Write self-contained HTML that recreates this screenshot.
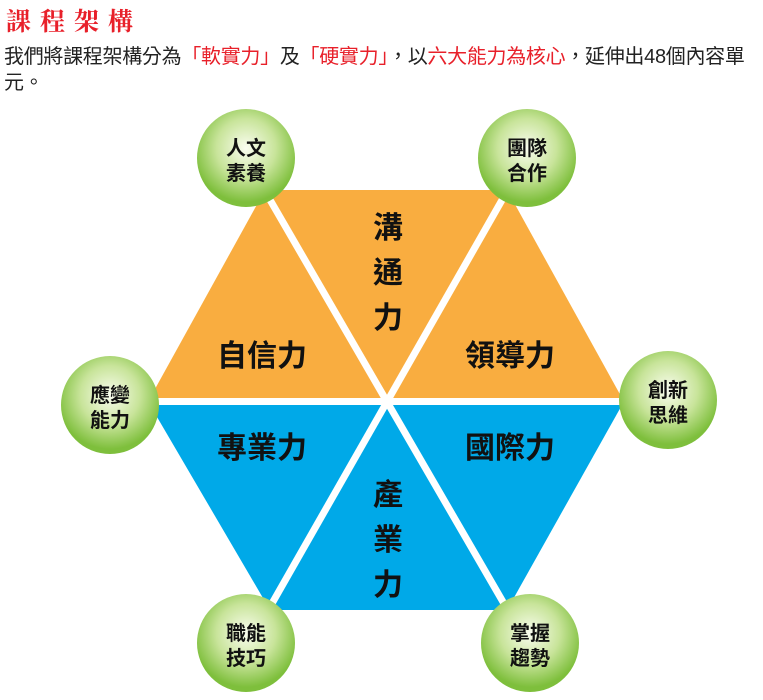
<!DOCTYPE html>
<html><head><meta charset="utf-8"><style>
body{margin:0;width:763px;height:700px;background:#fff;overflow:hidden;font-family:"Liberation Sans","Noto Sans CJK TC",sans-serif;}
.t{position:absolute;left:6px;top:2px;font-family:"Liberation Serif","Noto Serif CJK SC",serif;font-size:25px;font-weight:bold;color:#e8202a;letter-spacing:9px;}
.p{position:absolute;left:4px;top:44px;width:756px;font-size:20px;line-height:26px;color:#222;letter-spacing:-0.3px;}
.r{color:#e8202a}
</style></head><body>
<div class="t">課程架構</div>
<div class="p">我們將課程架構分為<span class="r">「軟實力」</span>及<span class="r">「硬實力」</span>，以<span class="r">六大能力為核心</span>，延伸出48個內容單元。</div>
<svg width="763" height="700" style="position:absolute;left:0;top:0">
<defs><radialGradient id="g" cx="50%" cy="40%" r="55%"><stop offset="0" stop-color="#fafdf0"/><stop offset="0.55" stop-color="#c8e49a"/><stop offset="1" stop-color="#7ebf3c"/></radialGradient></defs>
<polygon points="265,190 507,190 622,398 150,398" fill="#f9ad40"/>
<polygon points="150,405 622,405 507,610 270,610" fill="#00a9e8"/>
<line x1="262" y1="186" x2="510" y2="614" stroke="#fff" stroke-width="7"/>
<line x1="510" y1="186" x2="266" y2="614" stroke="#fff" stroke-width="7"/>
<g font-size="30" font-weight="bold" fill="#111" text-anchor="middle">
<text x="262" y="366">自信力</text><text x="510" y="366">領導力</text>
<text x="262" y="458">專業力</text><text x="510" y="458">國際力</text>
<text x="388" y="238">溝</text><text x="388" y="283">通</text><text x="388" y="328">力</text>
<text x="388" y="505">產</text><text x="388" y="550">業</text><text x="388" y="595">力</text>
</g>
<g font-size="20" font-weight="bold" fill="#111" text-anchor="middle">
<circle cx="246" cy="158" r="49" fill="url(#g)"/><text x="246" y="155">人文</text><text x="246" y="180">素養</text>
<circle cx="527" cy="158" r="49" fill="url(#g)"/><text x="527" y="155">團隊</text><text x="527" y="180">合作</text>
<circle cx="110" cy="405" r="49" fill="url(#g)"/><text x="110" y="402">應變</text><text x="110" y="427">能力</text>
<circle cx="668" cy="400" r="49" fill="url(#g)"/><text x="668" y="397">創新</text><text x="668" y="422">思維</text>
<circle cx="246" cy="643" r="49" fill="url(#g)"/><text x="246" y="640">職能</text><text x="246" y="665">技巧</text>
<circle cx="530" cy="643" r="49" fill="url(#g)"/><text x="530" y="640">掌握</text><text x="530" y="665">趨勢</text>
</g>
</svg>
</body></html>
